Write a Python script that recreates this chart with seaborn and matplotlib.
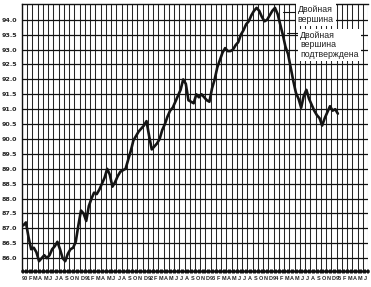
import numpy as np
import pandas as pd
import matplotlib
matplotlib.use("Agg")
import matplotlib.pyplot as plt
import seaborn as sns

# Half-monthly price readings starting January 1990
prices = [
    87.1, 87.2, 86.7, 86.3, 86.35, 86.2, 85.9, 86.0, 86.1, 86.0,
    86.1, 86.3, 86.4, 86.55, 86.3, 86.0, 85.9, 86.15, 86.3, 86.35,
    86.55, 87.1, 87.6, 87.5, 87.25, 87.75, 88.0, 88.2, 88.15, 88.3,
    88.5, 88.7, 89.0, 88.8, 88.4, 88.55, 88.75, 88.9, 88.95, 89.0,
    89.3, 89.6, 89.95, 90.1, 90.25, 90.35, 90.45, 90.6, 90.1, 89.65,
    89.75, 89.85, 90.0, 90.3, 90.5, 90.75, 90.95, 91.05, 91.25, 91.45,
    91.65, 92.0, 91.85, 91.3, 91.25, 91.2, 91.5, 91.4, 91.5, 91.4,
    91.3, 91.25, 91.7, 92.0, 92.4, 92.65, 92.9, 93.05, 92.95, 92.95,
    93.0, 93.15, 93.25, 93.5, 93.65, 93.85, 93.95, 94.15, 94.3, 94.4,
    94.3, 94.1, 93.95, 94.0, 94.15, 94.3, 94.4, 94.2, 93.85, 93.5,
    93.1, 92.85, 92.4, 91.95, 91.55, 91.35, 91.05, 91.45, 91.65, 91.35,
    91.15, 90.95, 90.8, 90.7, 90.45, 90.7, 90.9, 91.1, 90.95, 91.0,
    90.85,
]

month_labels = [
    "90", "F", "M", "A", "M", "J", "J", "A", "S", "O", "N", "D",
    "91", "F", "M", "A", "M", "J", "J", "A", "S", "O", "N", "D",
    "92", "F", "M", "A", "M", "J", "J", "A", "S", "O", "N", "D",
    "93", "F", "M", "A", "M", "J", "J", "A", "S", "O", "N", "D",
    "94", "F", "M", "A", "M", "J", "J", "A", "S", "O", "N", "D",
    "95", "F", "M", "A", "M", "J",
]

y_ticks = [86.0, 86.5, 87.0, 87.5, 88.0, 88.5, 89.0, 89.5, 90.0,
           90.5, 91.0, 91.5, 92.0, 92.5, 93.0, 93.5, 94.0]

annot_top = "Двойная\nвершина"
annot_confirm = "Двойная\nвершина\nподтверждена"

sns.set_style("white")
plt.rcParams["font.family"] = ["Liberation Sans", "DejaVu Sans"]

fig = plt.figure(figsize=(3.71, 2.87), dpi=100)
ax = fig.add_axes([22 / 371, 16 / 287, 346 / 371, 267 / 287])

n_months = len(month_labels)
df = pd.DataFrame({"t": np.arange(len(prices)) * 0.5 + 0.25, "price": prices})
sns.lineplot(data=df, x="t", y="price", ax=ax, color="#141414", lw=1.9,
             zorder=3)

ax.set_xlim(0, n_months)
ax.set_ylim(85.57, 94.53)
ax.set_xlabel("")
ax.set_ylabel("")

# month boundaries carry the grid; month centres carry the labels
ax.set_xticks(np.arange(n_months + 1))
ax.set_xticklabels([])
ax.set_xticks(np.arange(n_months) + 0.5, minor=True)
ax.set_xticklabels(month_labels, minor=True, fontsize=4.0,
                   fontweight="bold", family="Liberation Sans")
ax.tick_params(axis="x", which="major", length=3, width=0.8,
               direction="inout", color="#111")
ax.tick_params(axis="x", which="minor", length=0, pad=3.5)

ax.set_yticks(y_ticks)
ax.set_yticklabels([f"{v:.1f}" for v in y_ticks], fontsize=4.6,
                   fontweight="bold", family="DejaVu Sans")
ax.tick_params(axis="y", length=2, width=0.8, pad=1.5, color="#111")

ax.grid(axis="x", which="major", color="#262626", lw=0.75)
ax.grid(axis="y", which="major", color="#111111", lw=0.9)
ax.set_axisbelow(True)

# weekly ticks along the bottom band
sec = ax.secondary_xaxis("bottom")
sec.set_xticks(np.arange(0, n_months + 0.01, 0.25))
sec.set_xticklabels([])
sec.tick_params(length=2.5, width=0.7, direction="inout", color="#111")

for side in ["top", "left", "bottom"]:
    ax.spines[side].set_visible(True)
    ax.spines[side].set_color("#111")
ax.spines["bottom"].set_linewidth(1.8)
ax.spines["left"].set_linewidth(1.0)
ax.spines["top"].set_linewidth(1.0)
ax.spines["right"].set_visible(False)

# annotations
ax.text(52.6, 94.49, annot_top, ha="left", va="top", fontsize=6.3,
        color="#222", linespacing=1.05, zorder=5,
        bbox=dict(fc="white", ec="none", pad=1.5))
ax.text(53.1, 93.63, annot_confirm, ha="left", va="top", fontsize=6.3,
        color="#222", linespacing=1.05, zorder=5,
        bbox=dict(fc="white", ec="none", pad=1.5))
ax.plot([49.8, 52.2], [94.27, 94.27], color="#111", lw=0.8, zorder=4)
ax.plot([50.5, 52.6], [93.57, 93.57], color="#111", lw=0.8, zorder=4)

fig.savefig("out.png", dpi=100)
